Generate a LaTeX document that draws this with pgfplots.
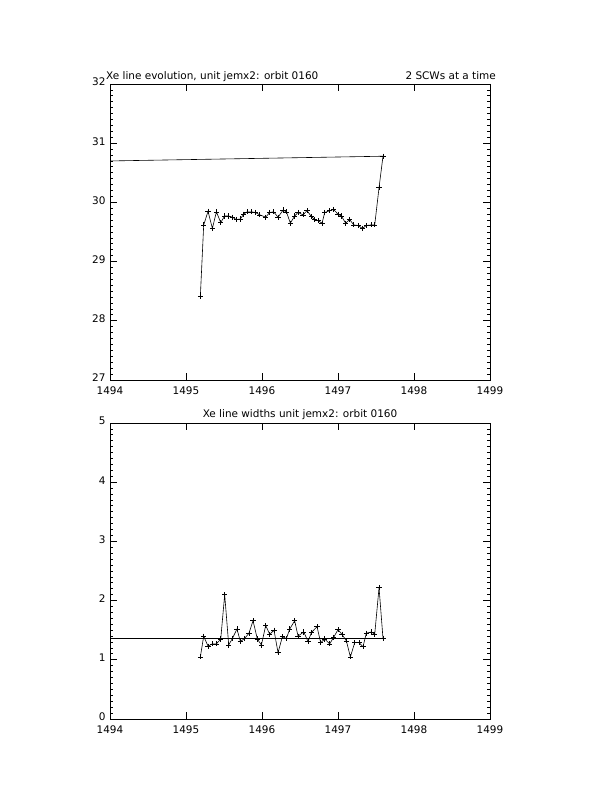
\documentclass[border=0pt]{standalone}
\usepackage{fontspec}
\setmainfont{DejaVu Sans}
\usepackage{pgfplots}
\usepackage{pgfplotstable}
\pgfplotsset{compat=1.18}

% Xe line centroid per pair of science windows
\pgfplotstableread{
x        y
1495.189 28.42
1495.233 29.62
1495.290 29.85
1495.347 29.56
1495.400 29.84
1495.457 29.66
1495.509 29.77
1495.562 29.77
1495.610 29.75
1495.663 29.71
1495.715 29.72
1495.759 29.80
1495.803 29.84
1495.860 29.84
1495.913 29.83
1495.970 29.79
1496.049 29.75
1496.101 29.83
1496.154 29.84
1496.211 29.75
1496.277 29.87
1496.321 29.84
1496.373 29.65
1496.430 29.77
1496.474 29.83
1496.540 29.79
1496.593 29.86
1496.650 29.76
1496.693 29.71
1496.737 29.69
1496.790 29.65
1496.825 29.83
1496.891 29.86
1496.943 29.88
1497.000 29.80
1497.044 29.77
1497.101 29.65
1497.154 29.71
1497.207 29.62
1497.264 29.61
1497.321 29.56
1497.373 29.61
1497.439 29.62
1497.483 29.62
1497.540 30.25
1497.592 30.78
}\linepos

% Xe line width per pair of science windows
\pgfplotstableread{
x        y
1495.189 1.05
1495.233 1.40
1495.290 1.23
1495.347 1.27
1495.400 1.27
1495.457 1.35
1495.509 2.10
1495.562 1.25
1495.610 1.36
1495.671 1.52
1495.715 1.31
1495.772 1.36
1495.829 1.45
1495.882 1.66
1495.939 1.35
1495.992 1.25
1496.049 1.58
1496.101 1.43
1496.158 1.50
1496.211 1.12
1496.268 1.39
1496.321 1.36
1496.365 1.52
1496.430 1.66
1496.474 1.40
1496.549 1.47
1496.606 1.31
1496.650 1.46
1496.724 1.56
1496.772 1.29
1496.825 1.35
1496.891 1.27
1496.943 1.38
1497.000 1.51
1497.053 1.43
1497.110 1.32
1497.163 1.05
1497.220 1.29
1497.277 1.29
1497.329 1.22
1497.373 1.45
1497.439 1.47
1497.483 1.43
1497.540 2.22
1497.592 1.36
}\linewidths

\pgfplotsset{
  idlpanel/.style={
    scale only axis, width=380bp, height=296bp,
    anchor=south west,
    xmin=1494, xmax=1499, xtick={1494,...,1499},
    minor x tick num=4, minor y tick num=9,
    tick align=inside,
    major tick length=7bp, minor tick length=3.5bp,
    axis line style={line width=0.8bp},
    every tick/.style={line width=0.8bp, black},
    tick label style={font=\fontsize{10.5}{12}\selectfont},
    xticklabel style={/pgf/number format/1000 sep={}},
    /pgf/number format/assume math mode=true,
    x tick label style={yshift=-3bp},
    y tick label style={xshift=-1bp, yshift=2bp},
  },
  datapts/.style={black, line width=0.6bp, mark=+, mark size=2.6bp,
    mark options={line width=0.6bp}},
}

\begin{document}
\begin{tikzpicture}
% page frame, 612 x 792 bp
\path (0bp,0bp) rectangle (612bp,792bp);

\begin{axis}[idlpanel, name=top, at={(110bp,412bp)},
  ymin=27, ymax=32, ytick={27,...,32}]
  \addplot[black, line width=0.6bp] coordinates {(1494,30.70) (1497.592,30.78)};
  \addplot[datapts] table[x=x,y=y] {\linepos};
\end{axis}
\node[anchor=base west, inner sep=0, font=\fontsize{10.5}{12}\selectfont]
  at ([xshift=-4bp,yshift=4bp]top.north west) {Xe line evolution, unit jemx2: orbit 0160};
\node[anchor=base east, inner sep=0, font=\fontsize{10.5}{12}\selectfont]
  at ([xshift=6bp,yshift=4bp]top.north east) {2 SCWs at a time};

\begin{axis}[idlpanel, name=bot, at={(110bp,73bp)},
  ymin=0, ymax=5, ytick={0,...,5}]
  \addplot[black, line width=0.6bp] coordinates {(1494,1.37) (1497.62,1.37)};
  \addplot[datapts] table[x=x,y=y] {\linewidths};
\end{axis}
\node[anchor=base, inner sep=0, font=\fontsize{10.5}{12}\selectfont]
  at ([yshift=6bp]bot.north) {Xe line widths unit jemx2: orbit 0160};
\end{tikzpicture}
\end{document}
